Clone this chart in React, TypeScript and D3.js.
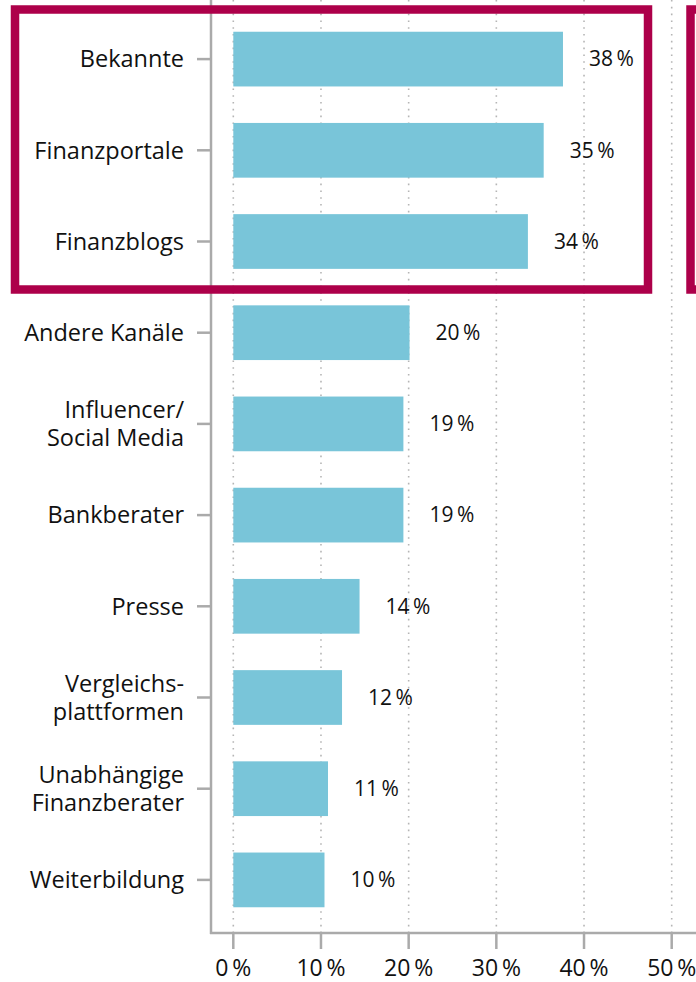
import React from "react";
import * as d3 from "d3";

const categories: string[][] = [
  ["Bekannte"],
  ["Finanzportale"],
  ["Finanzblogs"],
  ["Andere Kanäle"],
  ["Influencer/", "Social Media"],
  ["Bankberater"],
  ["Presse"],
  ["Vergleichs-", "plattformen"],
  ["Unabhängige", "Finanzberater"],
  ["Weiterbildung"],
];
const values: number[] = [37.6, 35.4, 33.6, 20.1, 19.4, 19.4, 14.4, 12.4, 10.8, 10.4];
const xTicks: number[] = [0, 10, 20, 30, 40, 50];

const W = 696;
const H = 982;
const FONT = "'Open Sans', 'Noto Sans', sans-serif";
const BAR = "#79C5D9";
const AXIS = "#AAAAAA";
const RED = "#AD004A";

export default function App() {
  const x = d3.scaleLinear().domain([0, 50]).range([233.3, 671.7]);
  const ids = categories.map((_, i) => String(i));
  const y = d3.scaleBand().domain(ids).range([13.5, 925.5]).paddingInner(0.4).paddingOuter(0.2);
  const axisY = 933;
  const axisX = 211;
  const pct = (v: number) => `${Math.round(v)}\u2009%`;

  return (
    <svg
      width={W}
      height={H}
      style={{ position: "absolute", left: 0, top: 0, background: "#fff" }}
      fontFamily={FONT}
    >
      {/* grid */}
      {xTicks.map((t) => (
        <line
          key={"g" + t}
          x1={x(t)}
          x2={x(t)}
          y1={0}
          y2={axisY}
          stroke="#B5B5B5"
          strokeWidth={1.6}
          strokeDasharray="1.6,5.2"
        />
      ))}
      {/* bars */}
      {values.map((v, i) => (
        <rect
          key={"b" + i}
          x={x(0)}
          y={y(String(i))!}
          width={x(v) - x(0)}
          height={y.bandwidth()}
          fill={BAR}
        />
      ))}
      {/* value labels */}
      {values.map((v, i) => (
        <text
          key={"v" + i}
          x={x(v) + 26}
          y={y(String(i))! + y.bandwidth() / 2}
          dy="0.35em"
          fontSize={21}
          fill="#111"
        >
          {pct(v)}
        </text>
      ))}
      {/* y axis */}
      <line x1={axisX} x2={axisX} y1={0} y2={axisY + 1} stroke={AXIS} strokeWidth={2.5} />
      {categories.map((lines, i) => {
        const cy = y(String(i))! + y.bandwidth() / 2;
        return (
          <g key={"c" + i}>
            <line x1={197} x2={axisX} y1={cy} y2={cy} stroke={AXIS} strokeWidth={2.5} />
            <text x={184} y={cy} textAnchor="end" fontSize={23.5} fill="#111">
              {lines.map((l, j) => (
                <tspan key={j} x={184} dy={j === 0 ? `${0.35 - (lines.length - 1) * 0.6}em` : "1.2em"}>
                  {l}
                </tspan>
              ))}
            </text>
          </g>
        );
      })}
      {/* x axis */}
      <line x1={axisX - 1} x2={W} y1={axisY} y2={axisY} stroke={AXIS} strokeWidth={2.5} />
      {xTicks.map((t) => (
        <g key={"t" + t}>
          <line x1={x(t)} x2={x(t)} y1={axisY} y2={949} stroke={AXIS} strokeWidth={2.5} />
          <text x={x(t)} y={976} textAnchor="middle" fontSize={23} fill="#111">
            {pct(t)}
          </text>
        </g>
      ))}
      {/* highlight boxes */}
      <rect x={15} y={9.5} width={633} height={280} fill="none" stroke={RED} strokeWidth={8.5} />
      <rect x={690.5} y={9.5} width={200} height={280} fill="none" stroke={RED} strokeWidth={8.5} />
    </svg>
  );
}
